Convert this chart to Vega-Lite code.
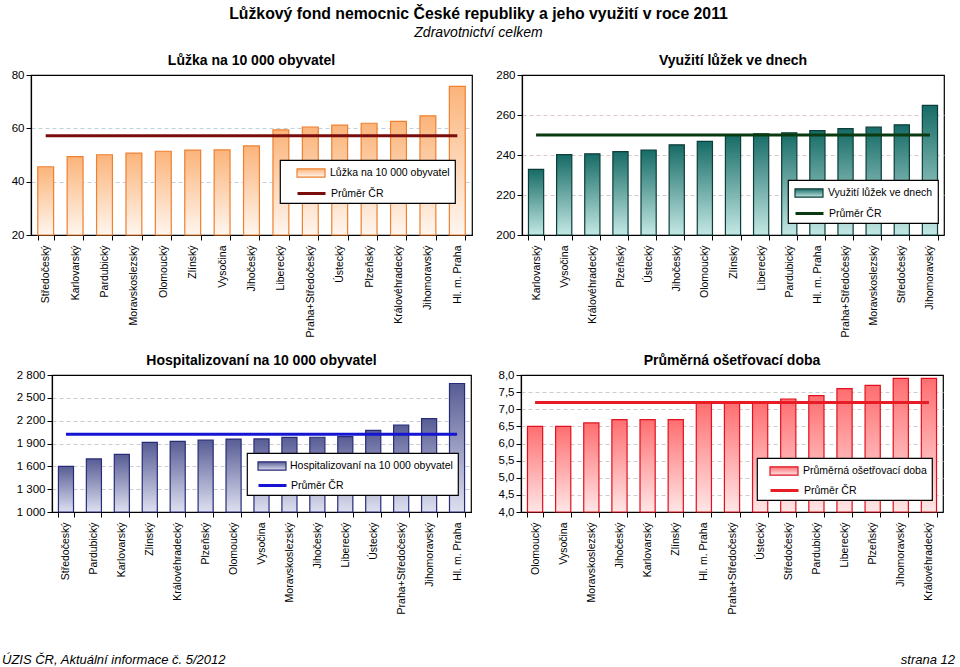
{
  "$schema": "https://vega.github.io/schema/vega-lite/v6.json",
  "background": "white",
  "padding": {"left": 2, "right": 5, "top": 5, "bottom": 0},
  "title": {
    "text": "Lůžkový fond nemocnic České republiky a jeho využití v roce 2011",
    "subtitle": "Zdravotnictví celkem",
    "anchor": "middle",
    "font": "Liberation Sans",
    "fontSize": 15.8,
    "fontWeight": "bold",
    "color": "black",
    "subtitleFont": "Liberation Sans",
    "subtitleFontSize": 14,
    "subtitleFontStyle": "italic",
    "subtitleColor": "black",
    "subtitlePadding": 4,
    "offset": 12
  },
  "resolve": {"scale": {"stroke": "independent"}, "legend": {"stroke": "independent"}},
  "config": {
    "font": "Liberation Sans",
    "view": {"stroke": "black", "strokeWidth": 1.2},
    "title": {"fontSize": 14, "fontWeight": "bold", "color": "black", "offset": 1, "font": "Liberation Sans"},
    "axisX": {
      "tickBand": "extent",
      "tickSize": 5,
      "tickColor": "black",
      "domainColor": "black",
      "domainWidth": 1.2,
      "labelAngle": 270,
      "labelAlign": "right",
      "labelBaseline": "middle",
      "labelPadding": 5,
      "labelFontSize": 10.5,
      "labelColor": "black",
      "labelFont": "Liberation Sans",
      "grid": false,
      "title": null
    },
    "axisY": {
      "tickSize": 5,
      "tickColor": "black",
      "domainColor": "black",
      "domainWidth": 1.2,
      "labelPadding": 2,
      "labelFontSize": 11.5,
      "labelColor": "black",
      "labelFont": "Liberation Sans",
      "grid": true,
      "gridDash": [4, 3],
      "gridColor": "#c8ccd4",
      "title": null
    },
    "legend": {
      "orient": "none",
      "title": null,
      "strokeColor": "black",
      "fillColor": "white",
      "strokeWidth": 1.2,
      "padding": 5,
      "labelFontSize": 10.5,
      "labelColor": "black",
      "labelFont": "Liberation Sans",
      "labelLimit": 400,
      "symbolSize": 196,
      "symbolOffset": 19,
      "labelOffset": 10,
      "rowPadding": 6
    }
  },
  "spacing": 15,
  "vconcat": [
    {
      "resolve": {"scale": {"stroke": "independent"}, "legend": {"stroke": "independent"}},
      "spacing": 18,
      "hconcat": [
        {
          "bounds": "flush",
          "spacing": 28,
          "resolve": {"scale": {"stroke": "independent"}, "legend": {"stroke": "independent"}},
          "hconcat": [
            {"width": 1, "height": 160, "view": {"stroke": null}, "data": {"values": []}, "mark": "point"},
            {
              "title": "Lůžka na 10 000 obyvatel",
              "width": 441,
              "height": 160,
              "data": {"values": [
                {"kraj": "Středočeský", "value": 45.6, "mean": 57.2, "s1": "Lůžka na 10 000 obyvatel", "s2": "Průměr ČR"},
                {"kraj": "Karlovarský", "value": 49.4, "mean": 57.2, "s1": "Lůžka na 10 000 obyvatel", "s2": "Průměr ČR"},
                {"kraj": "Pardubický", "value": 50.1, "mean": 57.2, "s1": "Lůžka na 10 000 obyvatel", "s2": "Průměr ČR"},
                {"kraj": "Moravskoslezský", "value": 50.7, "mean": 57.2, "s1": "Lůžka na 10 000 obyvatel", "s2": "Průměr ČR"},
                {"kraj": "Olomoucký", "value": 51.4, "mean": 57.2, "s1": "Lůžka na 10 000 obyvatel", "s2": "Průměr ČR"},
                {"kraj": "Zlínský", "value": 51.8, "mean": 57.2, "s1": "Lůžka na 10 000 obyvatel", "s2": "Průměr ČR"},
                {"kraj": "Vysočina", "value": 51.9, "mean": 57.2, "s1": "Lůžka na 10 000 obyvatel", "s2": "Průměr ČR"},
                {"kraj": "Jihočeský", "value": 53.4, "mean": 57.2, "s1": "Lůžka na 10 000 obyvatel", "s2": "Průměr ČR"},
                {"kraj": "Liberecký", "value": 59.4, "mean": 57.2, "s1": "Lůžka na 10 000 obyvatel", "s2": "Průměr ČR"},
                {"kraj": "Praha+Středočeský", "value": 60.5, "mean": 57.2, "s1": "Lůžka na 10 000 obyvatel", "s2": "Průměr ČR"},
                {"kraj": "Ústecký", "value": 61.2, "mean": 57.2, "s1": "Lůžka na 10 000 obyvatel", "s2": "Průměr ČR"},
                {"kraj": "Plzeňský", "value": 61.9, "mean": 57.2, "s1": "Lůžka na 10 000 obyvatel", "s2": "Průměr ČR"},
                {"kraj": "Královéhradecký", "value": 62.6, "mean": 57.2, "s1": "Lůžka na 10 000 obyvatel", "s2": "Průměr ČR"},
                {"kraj": "Jihomoravský", "value": 64.7, "mean": 57.2, "s1": "Lůžka na 10 000 obyvatel", "s2": "Průměr ČR"},
                {"kraj": "Hl. m. Praha", "value": 75.7, "mean": 57.2, "s1": "Lůžka na 10 000 obyvatel", "s2": "Průměr ČR"}
              ]},
              "encoding": {
                "x": {"field": "kraj", "type": "nominal", "sort": null, "scale": {"paddingInner": 0.46, "paddingOuter": 0.23}}
              },
              "resolve": {"scale": {"stroke": "independent"}, "legend": {"stroke": "independent"}},
              "layer": [
                {
                  "mark": {"type": "bar", "strokeWidth": 1.2, "fill": {"gradient": "linear", "x1": 0, "y1": 0, "x2": 0, "y2": 1, "stops": [{"offset": 0, "color": "#FBB47A"}, {"offset": 1, "color": "#FFF6EF"}]}},
                  "encoding": {
                    "y": {"field": "value", "type": "quantitative", "scale": {"domain": [20, 80], "zero": false, "nice": false}, "axis": {"values": [20, 40, 60, 80], "minExtent": 26, "gridColor": "#c4cfdc", "gridOpacity": {"condition": {"test": "datum.value === 80", "value": 0}, "value": 1}}},
                    "y2": {"datum": 20},
                    "stroke": {"field": "s1", "type": "nominal", "scale": {"range": ["#EE8030"]},
                      "legend": {"legendX": 249, "legendY": 85, "symbolOffset": 18, "labelOffset": 11, "symbolType": "M-2,-0.6H2V0.6H-2Z", "symbolStrokeWidth": 1.2, "title": "\u00a0", "titleOrient": "bottom", "titlePadding": 7, "titleFontSize": 12}}
                  }
                },
                {
                  "mark": {"type": "line", "strokeWidth": 3},
                  "encoding": {
                    "y": {"field": "mean", "type": "quantitative", "axis": {"values": [20, 40, 60, 80], "minExtent": 26, "gridColor": "#c4cfdc", "gridOpacity": {"condition": {"test": "datum.value === 80", "value": 0}, "value": 1}}},
                    "stroke": {"field": "s2", "type": "nominal", "scale": {"range": ["#7A0C0C"]},
                      "legend": {"legendX": 249, "legendY": 105, "symbolOffset": 18, "labelOffset": 11, "symbolType": "M-2,0H2", "symbolStrokeWidth": 3, "strokeColor": "transparent", "fillColor": "transparent"}}
                  }
                }
              ]
            }
          ]
        },
        {
          "title": "Využití lůžek ve dnech",
          "width": 422,
          "height": 160,
          "data": {"values": [
            {"kraj": "Karlovarský", "value": 232.8, "mean": 250.0, "s1": "Využití lůžek ve dnech", "s2": "Průměr ČR"},
            {"kraj": "Vysočina", "value": 240.2, "mean": 250.0, "s1": "Využití lůžek ve dnech", "s2": "Průměr ČR"},
            {"kraj": "Královéhradecký", "value": 240.6, "mean": 250.0, "s1": "Využití lůžek ve dnech", "s2": "Průměr ČR"},
            {"kraj": "Plzeňský", "value": 241.7, "mean": 250.0, "s1": "Využití lůžek ve dnech", "s2": "Průměr ČR"},
            {"kraj": "Ústecký", "value": 242.5, "mean": 250.0, "s1": "Využití lůžek ve dnech", "s2": "Průměr ČR"},
            {"kraj": "Jihočeský", "value": 245.1, "mean": 250.0, "s1": "Využití lůžek ve dnech", "s2": "Průměr ČR"},
            {"kraj": "Olomoucký", "value": 246.8, "mean": 250.0, "s1": "Využití lůžek ve dnech", "s2": "Průměr ČR"},
            {"kraj": "Zlínský", "value": 250.1, "mean": 250.0, "s1": "Využití lůžek ve dnech", "s2": "Průměr ČR"},
            {"kraj": "Liberecký", "value": 250.6, "mean": 250.0, "s1": "Využití lůžek ve dnech", "s2": "Průměr ČR"},
            {"kraj": "Pardubický", "value": 251.1, "mean": 250.0, "s1": "Využití lůžek ve dnech", "s2": "Průměr ČR"},
            {"kraj": "Hl. m. Praha", "value": 252.2, "mean": 250.0, "s1": "Využití lůžek ve dnech", "s2": "Průměr ČR"},
            {"kraj": "Praha+Středočeský", "value": 253.2, "mean": 250.0, "s1": "Využití lůžek ve dnech", "s2": "Průměr ČR"},
            {"kraj": "Moravskoslezský", "value": 253.9, "mean": 250.0, "s1": "Využití lůžek ve dnech", "s2": "Průměr ČR"},
            {"kraj": "Středočeský", "value": 255.1, "mean": 250.0, "s1": "Využití lůžek ve dnech", "s2": "Průměr ČR"},
            {"kraj": "Jihomoravský", "value": 264.8, "mean": 250.0, "s1": "Využití lůžek ve dnech", "s2": "Průměr ČR"}
          ]},
          "encoding": {
            "x": {"field": "kraj", "type": "nominal", "sort": null, "scale": {"paddingInner": 0.46, "paddingOuter": 0.23}}
          },
          "resolve": {"scale": {"stroke": "independent"}, "legend": {"stroke": "independent"}},
          "layer": [
            {
              "mark": {"type": "bar", "strokeWidth": 1.2, "fill": {"gradient": "linear", "x1": 0, "y1": 0, "x2": 0, "y2": 1, "stops": [{"offset": 0, "color": "#166B66"}, {"offset": 1, "color": "#C4E8E4"}]}},
              "encoding": {
                "y": {"field": "value", "type": "quantitative", "scale": {"domain": [200, 280], "zero": false, "nice": false}, "axis": {"values": [200, 220, 240, 260, 280], "minExtent": 30, "gridColor": "#dcc8cc", "gridOpacity": {"condition": {"test": "datum.value === 280", "value": 0}, "value": 1}}},
                "y2": {"datum": 200},
                "stroke": {"field": "s1", "type": "nominal", "scale": {"range": ["#0C3D38"]},
                  "legend": {"legendX": 266, "legendY": 105, "symbolOffset": 8, "labelOffset": 11, "symbolType": "M-2,-0.6H2V0.6H-2Z", "symbolStrokeWidth": 1.2, "title": "\u00a0", "titleOrient": "bottom", "titlePadding": 7, "titleFontSize": 12}}
              }
            },
            {
              "mark": {"type": "line", "strokeWidth": 3},
              "encoding": {
                "y": {"field": "mean", "type": "quantitative", "axis": {"values": [200, 220, 240, 260, 280], "minExtent": 30, "gridColor": "#dcc8cc", "gridOpacity": {"condition": {"test": "datum.value === 280", "value": 0}, "value": 1}}},
                "stroke": {"field": "s2", "type": "nominal", "scale": {"range": ["#0A3A10"]},
                  "legend": {"legendX": 266, "legendY": 125, "symbolOffset": 8, "labelOffset": 11, "symbolType": "M-2,0H2", "symbolStrokeWidth": 3, "strokeColor": "transparent", "fillColor": "transparent"}}
              }
            }
          ]
        }
      ]
    },
    {
      "resolve": {"scale": {"stroke": "independent"}, "legend": {"stroke": "independent"}},
      "spacing": 22,
      "hconcat": [
        {
          "bounds": "flush",
          "spacing": 49,
          "resolve": {"scale": {"stroke": "independent"}, "legend": {"stroke": "independent"}},
          "hconcat": [
            {"width": 1, "height": 137, "view": {"stroke": null}, "data": {"values": []}, "mark": "point"},
            {
              "title": "Hospitalizovaní na 10 000 obyvatel",
              "width": 419,
              "height": 137,
              "data": {"values": [
                {"kraj": "Středočeský", "value": 1600, "mean": 2020, "s1": "Hospitalizovaní na 10 000 obyvatel", "s2": "Průměr ČR"},
                {"kraj": "Pardubický", "value": 1697, "mean": 2020, "s1": "Hospitalizovaní na 10 000 obyvatel", "s2": "Průměr ČR"},
                {"kraj": "Karlovarský", "value": 1757, "mean": 2020, "s1": "Hospitalizovaní na 10 000 obyvatel", "s2": "Průměr ČR"},
                {"kraj": "Zlínský", "value": 1914, "mean": 2020, "s1": "Hospitalizovaní na 10 000 obyvatel", "s2": "Průměr ČR"},
                {"kraj": "Královéhradecký", "value": 1928, "mean": 2020, "s1": "Hospitalizovaní na 10 000 obyvatel", "s2": "Průměr ČR"},
                {"kraj": "Plzeňský", "value": 1946, "mean": 2020, "s1": "Hospitalizovaní na 10 000 obyvatel", "s2": "Průměr ČR"},
                {"kraj": "Olomoucký", "value": 1958, "mean": 2020, "s1": "Hospitalizovaní na 10 000 obyvatel", "s2": "Průměr ČR"},
                {"kraj": "Vysočina", "value": 1960, "mean": 2020, "s1": "Hospitalizovaní na 10 000 obyvatel", "s2": "Průměr ČR"},
                {"kraj": "Moravskoslezský", "value": 1980, "mean": 2020, "s1": "Hospitalizovaní na 10 000 obyvatel", "s2": "Průměr ČR"},
                {"kraj": "Jihočeský", "value": 1982, "mean": 2020, "s1": "Hospitalizovaní na 10 000 obyvatel", "s2": "Průměr ČR"},
                {"kraj": "Liberecký", "value": 1990, "mean": 2020, "s1": "Hospitalizovaní na 10 000 obyvatel", "s2": "Průměr ČR"},
                {"kraj": "Ústecký", "value": 2072, "mean": 2020, "s1": "Hospitalizovaní na 10 000 obyvatel", "s2": "Průměr ČR"},
                {"kraj": "Praha+Středočeský", "value": 2143, "mean": 2020, "s1": "Hospitalizovaní na 10 000 obyvatel", "s2": "Průměr ČR"},
                {"kraj": "Jihomoravský", "value": 2226, "mean": 2020, "s1": "Hospitalizovaní na 10 000 obyvatel", "s2": "Průměr ČR"},
                {"kraj": "Hl. m. Praha", "value": 2688, "mean": 2020, "s1": "Hospitalizovaní na 10 000 obyvatel", "s2": "Průměr ČR"}
              ]},
              "encoding": {
                "x": {"field": "kraj", "type": "nominal", "sort": null, "scale": {"paddingInner": 0.46, "paddingOuter": 0.23}}
              },
              "resolve": {"scale": {"stroke": "independent"}, "legend": {"stroke": "independent"}},
              "layer": [
                {
                  "mark": {"type": "bar", "strokeWidth": 1.2, "fill": {"gradient": "linear", "x1": 0, "y1": 0, "x2": 0, "y2": 1, "stops": [{"offset": 0, "color": "#575C94"}, {"offset": 1, "color": "#DEE0F0"}]}},
                  "encoding": {
                    "y": {"field": "value", "type": "quantitative", "scale": {"domain": [1000, 2800], "zero": false, "nice": false}, "axis": {"values": [1000, 1300, 1600, 1900, 2200, 2500, 2800], "labelExpr": "replace(format(datum.value, ','), ',', ' ')", "minExtent": 37, "gridColor": "#cccccc", "gridOpacity": {"condition": {"test": "datum.value === 2800", "value": 0}, "value": 1}}},
                    "y2": {"datum": 1000},
                    "stroke": {"field": "s1", "type": "nominal", "scale": {"range": ["#282B78"]},
                      "legend": {"legendX": 195, "legendY": 78, "symbolOffset": 12, "labelOffset": 10, "symbolType": "M-2,-0.6H2V0.6H-2Z", "symbolStrokeWidth": 1.2, "title": "\u00a0", "titleOrient": "bottom", "titlePadding": 6, "titleFontSize": 12}}
                  }
                },
                {
                  "mark": {"type": "line", "strokeWidth": 3},
                  "encoding": {
                    "y": {"field": "mean", "type": "quantitative", "axis": {"values": [1000, 1300, 1600, 1900, 2200, 2500, 2800], "labelExpr": "replace(format(datum.value, ','), ',', ' ')", "minExtent": 37, "gridColor": "#cccccc", "gridOpacity": {"condition": {"test": "datum.value === 2800", "value": 0}, "value": 1}}},
                    "stroke": {"field": "s2", "type": "nominal", "scale": {"range": ["#1414D2"]},
                      "legend": {"legendX": 195, "legendY": 97, "symbolOffset": 12, "labelOffset": 10, "symbolType": "M-2,0H2", "symbolStrokeWidth": 3, "strokeColor": "transparent", "fillColor": "transparent"}}
                  }
                }
              ]
            }
          ]
        },
        {
          "title": "Průměrná ošetřovací doba",
          "width": 422,
          "height": 137,
          "data": {"values": [
            {"kraj": "Olomoucký", "value": 6.5, "mean": 7.2, "s1": "Průměrná ošetřovací doba", "s2": "Průměr ČR"},
            {"kraj": "Vysočina", "value": 6.5, "mean": 7.2, "s1": "Průměrná ošetřovací doba", "s2": "Průměr ČR"},
            {"kraj": "Moravskoslezský", "value": 6.6, "mean": 7.2, "s1": "Průměrná ošetřovací doba", "s2": "Průměr ČR"},
            {"kraj": "Jihočeský", "value": 6.7, "mean": 7.2, "s1": "Průměrná ošetřovací doba", "s2": "Průměr ČR"},
            {"kraj": "Karlovarský", "value": 6.7, "mean": 7.2, "s1": "Průměrná ošetřovací doba", "s2": "Průměr ČR"},
            {"kraj": "Zlínský", "value": 6.7, "mean": 7.2, "s1": "Průměrná ošetřovací doba", "s2": "Průměr ČR"},
            {"kraj": "Hl. m. Praha", "value": 7.2, "mean": 7.2, "s1": "Průměrná ošetřovací doba", "s2": "Průměr ČR"},
            {"kraj": "Praha+Středočeský", "value": 7.2, "mean": 7.2, "s1": "Průměrná ošetřovací doba", "s2": "Průměr ČR"},
            {"kraj": "Ústecký", "value": 7.2, "mean": 7.2, "s1": "Průměrná ošetřovací doba", "s2": "Průměr ČR"},
            {"kraj": "Středočeský", "value": 7.3, "mean": 7.2, "s1": "Průměrná ošetřovací doba", "s2": "Průměr ČR"},
            {"kraj": "Pardubický", "value": 7.4, "mean": 7.2, "s1": "Průměrná ošetřovací doba", "s2": "Průměr ČR"},
            {"kraj": "Liberecký", "value": 7.6, "mean": 7.2, "s1": "Průměrná ošetřovací doba", "s2": "Průměr ČR"},
            {"kraj": "Plzeňský", "value": 7.7, "mean": 7.2, "s1": "Průměrná ošetřovací doba", "s2": "Průměr ČR"},
            {"kraj": "Jihomoravský", "value": 7.9, "mean": 7.2, "s1": "Průměrná ošetřovací doba", "s2": "Průměr ČR"},
            {"kraj": "Královéhradecký", "value": 7.9, "mean": 7.2, "s1": "Průměrná ošetřovací doba", "s2": "Průměr ČR"}
          ]},
          "encoding": {
            "x": {"field": "kraj", "type": "nominal", "sort": null, "scale": {"paddingInner": 0.46, "paddingOuter": 0.23}}
          },
          "resolve": {"scale": {"stroke": "independent"}, "legend": {"stroke": "independent"}},
          "layer": [
            {
              "mark": {"type": "bar", "strokeWidth": 1.2, "fill": {"gradient": "linear", "x1": 0, "y1": 0, "x2": 0, "y2": 1, "stops": [{"offset": 0, "color": "#FF6E70"}, {"offset": 1, "color": "#FFE6E6"}]}},
              "encoding": {
                "y": {"field": "value", "type": "quantitative", "scale": {"domain": [4, 8], "zero": false, "nice": false}, "axis": {"values": [4, 4.5, 5, 5.5, 6, 6.5, 7, 7.5, 8], "labelExpr": "replace(format(datum.value, '.1f'), '.', ',')", "minExtent": 26, "gridColor": "#cccccc", "gridOpacity": {"condition": {"test": "datum.value === 8", "value": 0}, "value": 1}}},
                "y2": {"datum": 4},
                "stroke": {"field": "s1", "type": "nominal", "scale": {"range": ["#E0101E"]},
                  "legend": {"legendX": 236, "legendY": 83, "symbolOffset": 14, "labelOffset": 11, "symbolType": "M-2,-0.6H2V0.6H-2Z", "symbolStrokeWidth": 1.2, "title": "\u00a0", "titleOrient": "bottom", "titlePadding": 6, "titleFontSize": 12}}
              }
            },
            {
              "mark": {"type": "line", "strokeWidth": 3},
              "encoding": {
                "y": {"field": "mean", "type": "quantitative", "axis": {"values": [4, 4.5, 5, 5.5, 6, 6.5, 7, 7.5, 8], "labelExpr": "replace(format(datum.value, '.1f'), '.', ',')", "minExtent": 26, "gridColor": "#cccccc", "gridOpacity": {"condition": {"test": "datum.value === 8", "value": 0}, "value": 1}}},
                "stroke": {"field": "s2", "type": "nominal", "scale": {"range": ["#E81C24"]},
                  "legend": {"legendX": 236, "legendY": 102, "symbolOffset": 14, "labelOffset": 11, "symbolType": "M-2,0H2", "symbolStrokeWidth": 3, "strokeColor": "transparent", "fillColor": "transparent"}}
              }
            }
          ]
        }
      ]
    },
    {
      "width": 953,
      "height": 30,
      "view": {"stroke": null},
      "data": {"values": [
        {"t": "ÚZIS ČR, Aktuální informace č. 5/2012", "p": 0, "side": "left"},
        {"t": "strana 12", "p": 1, "side": "right"}
      ]},
      "encoding": {
        "x": {"field": "p", "type": "quantitative", "scale": {"domain": [0, 1]}, "axis": null},
        "y": {"datum": 0, "type": "quantitative", "scale": {"domain": [0, 1]}, "axis": null},
        "text": {"field": "t"}
      },
      "layer": [
        {
          "transform": [{"filter": "datum.side === 'left'"}],
          "mark": {"type": "text", "align": "left", "baseline": "middle", "fontSize": 13, "fontStyle": "italic", "font": "Liberation Sans", "color": "black"}
        },
        {
          "transform": [{"filter": "datum.side === 'right'"}],
          "mark": {"type": "text", "align": "right", "baseline": "middle", "fontSize": 13, "fontStyle": "italic", "font": "Liberation Sans", "color": "black"}
        }
      ]
    }
  ]
}
